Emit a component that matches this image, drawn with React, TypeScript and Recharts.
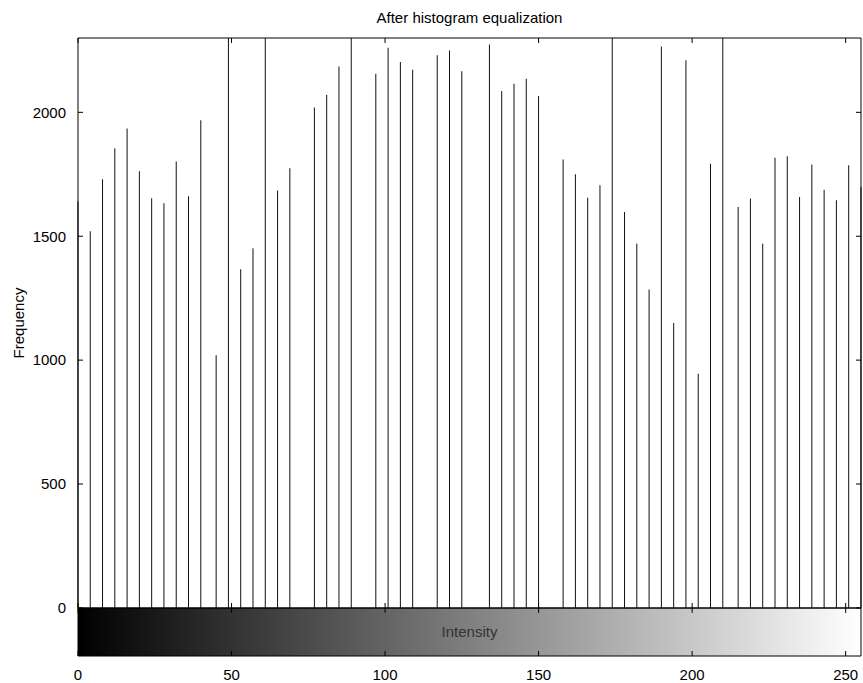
import React from 'react';
import { ComposedChart, Bar, Scatter, XAxis, YAxis, ReferenceArea, ReferenceLine } from 'recharts';

// gray levels produced by histeq (64 output levels)
const intensities = [
  0, 4, 8, 12, 16, 20, 24, 28, 32, 36, 40, 45, 49, 53, 57, 61,
  65, 69, 73, 77, 81, 85, 89, 93, 97, 101, 105, 109, 113, 117, 121, 125,
  130, 134, 138, 142, 146, 150, 154, 158, 162, 166, 170, 174, 178, 182, 186, 190,
  194, 198, 202, 206, 210, 215, 219, 223, 227, 231, 235, 239, 243, 247, 251, 255,
];

// pixel counts read from the stems (tall ones run past the top of the axes)
const counts = [
  1640, 1520, 1730, 1855, 1935, 1762, 1653, 1633, 1802, 1661, 1968, 1020, 3100, 1367, 1452, 3300,
  1685, 1774, 0, 2020, 2071, 2185, 3500, 0, 2156, 2261, 2203, 2172, 0, 2230, 2250, 2166,
  0, 2274, 2086, 2115, 2136, 2066, 0, 1810, 1750, 1655, 1706, 3200, 1598, 1470, 1285, 2266,
  1150, 2210, 945, 1793, 3400, 1618, 1652, 1470, 1817, 1823, 1658, 1790, 1688, 1645, 1786, 1699,
];

const xTicks = [0, 50, 100, 150, 200, 250];
const yTicks = [0, 500, 1000, 1500, 2000];

const data = intensities.map((v, i) => ({ intensity: v, count: counts[i] }));

const Y_MIN = -194;
const Y_MAX = 2300;
const X_MAX = 255;
const TY = 20; // ~5px in data units

// anchor points for the inward tick marks on each edge of the box
const leftMarks = yTicks.map((t) => ({ intensity: 0, count: t }));
const rightMarks = yTicks.map((t) => ({ intensity: X_MAX, count: t }));
const topMarks = xTicks.map((t) => ({ intensity: t, count: Y_MAX }));
const bottomMarks = xTicks.map((t) => ({ intensity: t, count: Y_MIN }));

const FONT = '"Liberation Sans", Arial, Helvetica, sans-serif';
const tickStyle = { fontSize: 15, fill: '#000', fontFamily: FONT };

const markShape = (d: string) => (p: any) =>
  p.cx == null || p.cy == null ? <g /> : <path d={`M${p.cx},${p.cy}${d}`} stroke="#000" strokeWidth={1} fill="none" />;

export default function App() {
  return (
    <div style={{ position: 'absolute', left: 0, top: 0, width: 863, height: 683, background: '#fff' }}>
      <div
        style={{
          position: 'absolute', left: 78, width: 783, top: 9, textAlign: 'center',
          fontFamily: FONT, fontSize: 15, color: '#000',
        }}
      >
        After histogram equalization
      </div>
      <div
        style={{
          position: 'absolute', left: 18, top: 323, transform: 'translate(-50%, -50%) rotate(-90deg)',
          fontFamily: FONT, fontSize: 15, color: '#000', whiteSpace: 'nowrap',
        }}
      >
        Frequency
      </div>
      <ComposedChart
        width={863}
        height={683}
        data={data}
        margin={{ top: 38, right: 2, bottom: 0, left: 0 }}
      >
        <defs>
          <linearGradient id="cbar" x1="0" y1="0" x2="1" y2="0">
            <stop offset="0%" stopColor="#000" />
            <stop offset="100%" stopColor="#fff" />
          </linearGradient>
        </defs>
        <XAxis
          dataKey="intensity"
          type="number"
          domain={[0, X_MAX]}
          ticks={xTicks}
          interval={0}
          height={27}
          tickMargin={7}
          tickLine={false}
          stroke="#000"
          tick={tickStyle}
        />
        <YAxis
          type="number"
          domain={[Y_MIN, Y_MAX]}
          allowDataOverflow
          ticks={yTicks}
          interval={0}
          width={78}
          tickMargin={6}
          tickLine={false}
          stroke="#000"
          tick={tickStyle}
        />
        {/* mirrored axes give the top and right box edges */}
        <XAxis
          xAxisId="top"
          orientation="top"
          mirror
          type="number"
          domain={[0, X_MAX]}
          ticks={xTicks}
          tickLine={false}
          tick={false}
          stroke="#000"
        />
        <YAxis
          yAxisId="rm"
          orientation="right"
          mirror
          type="number"
          domain={[Y_MIN, Y_MAX]}
          ticks={yTicks}
          tickLine={false}
          tick={false}
          stroke="#000"
        />
        <ReferenceArea
          x1={0}
          x2={X_MAX}
          y1={Y_MIN}
          y2={0}
          ifOverflow="visible"
          fill="url(#cbar)"
          fillOpacity={1}
          stroke="none"
          label={{ value: 'Intensity', position: 'center', fill: '#333', fontSize: 15, fontFamily: FONT }}
        />
        <Bar dataKey="count" barSize={1} fill="#111" isAnimationActive={false} />
        <ReferenceLine y={0} stroke="#000" strokeWidth={1.5} />
        {xTicks.map((t) => (
          <ReferenceLine key={`m${t}`} segment={[{ x: t + 0.01, y: -TY }, { x: t + 0.01, y: TY }]} stroke="#000" ifOverflow="visible" />
        ))}
        {/* inward tick marks on the box edges */}
        <Scatter data={leftMarks} dataKey="count" shape={markShape('h5')} isAnimationActive={false} />
        <Scatter data={rightMarks} dataKey="count" shape={markShape('h-5')} isAnimationActive={false} />
        <Scatter data={topMarks} dataKey="count" shape={markShape('v5')} isAnimationActive={false} />
        <Scatter data={bottomMarks} dataKey="count" shape={markShape('v-5')} isAnimationActive={false} />
      </ComposedChart>
    </div>
  );
}
